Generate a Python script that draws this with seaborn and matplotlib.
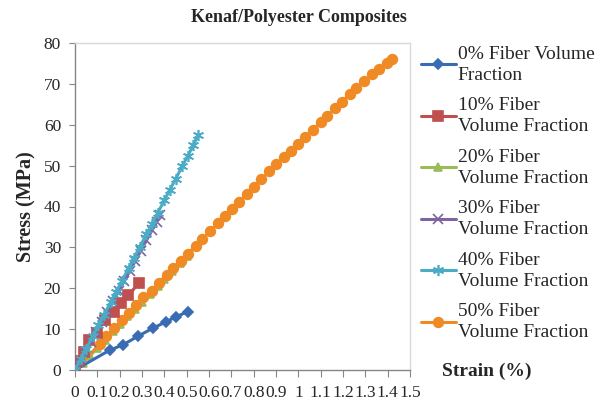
import matplotlib
matplotlib.use("Agg")
import matplotlib.pyplot as plt
import seaborn as sns
import numpy as np
import pandas as pd

# Data (strain in %, stress in MPa)
strain_0 = [0, 0.157, 0.213, 0.283, 0.351, 0.408, 0.452, 0.505]
stress_0 = [0, 4.9, 6.1, 8.3, 10.3, 11.8, 13.0, 14.3]

strain_10 = [0, 0.02, 0.04, 0.064, 0.097, 0.134, 0.175, 0.206, 0.239, 0.285]
stress_10 = [0, 2.2, 4.5, 7.3, 9.1, 12.2, 14.3, 16.5, 18.3, 21.2]

strain_20 = [0, 0.035, 0.067, 0.1, 0.135, 0.17, 0.2, 0.235, 0.27, 0.3,
             0.335, 0.37, 0.4, 0.435, 0.47, 0.5]
stress_20 = [0, 1.8, 3.4, 5.4, 7.4, 9.5, 11.2, 13.1, 15.0, 16.7,
             18.6, 20.6, 22.3, 24.2, 26.2, 28.0]

strain_30 = [0, 0.02, 0.045, 0.07, 0.095, 0.12, 0.145, 0.17, 0.195, 0.22,
             0.245, 0.27, 0.295, 0.32, 0.345, 0.365, 0.38]
stress_30 = [0, 2.0, 4.4, 6.9, 9.3, 11.8, 14.3, 16.8, 19.3, 21.7,
             24.2, 26.7, 29.2, 31.7, 34.2, 36.2, 37.9]

strain_40 = [0, 0.025, 0.05, 0.08, 0.105, 0.13, 0.16, 0.185, 0.21, 0.24, 0.265,
             0.29, 0.32, 0.345, 0.37, 0.4, 0.425, 0.45, 0.48, 0.505, 0.53, 0.55]
stress_40 = [0, 2.6, 5.2, 8.3, 10.9, 13.5, 16.6, 19.2, 21.8, 24.9, 27.5,
             30.1, 33.2, 35.8, 38.4, 41.5, 44.1, 46.7, 49.8, 52.4, 55.0, 57.4]

strain_50 = [0, 0.11, 0.14, 0.175, 0.21, 0.24, 0.275, 0.305, 0.345, 0.375, 0.41,
             0.44, 0.475, 0.505, 0.54, 0.57, 0.605, 0.64, 0.67, 0.705, 0.735,
             0.77, 0.80, 0.835, 0.87, 0.90, 0.935, 0.965, 1.00, 1.03, 1.065,
             1.10, 1.13, 1.165, 1.195, 1.23, 1.26, 1.295, 1.33, 1.36, 1.395, 1.42]
stress_50 = [0, 6.3, 8.2, 10.2, 12.2, 14.0, 15.9, 17.8, 19.4, 21.3, 23.2,
             25.0, 26.7, 28.5, 30.3, 32.0, 34.0, 35.9, 37.6, 39.5, 41.2,
             43.1, 44.8, 46.7, 48.6, 50.3, 52.0, 53.6, 55.4, 57.0, 58.8,
             60.6, 62.2, 64.0, 65.6, 67.5, 69.0, 70.7, 72.3, 73.6, 75.0, 76.0]

labels = ["0% Fiber Volume\nFraction", "10% Fiber\nVolume Fraction",
          "20% Fiber\nVolume Fraction", "30% Fiber\nVolume Fraction",
          "40% Fiber\nVolume Fraction", "50% Fiber\nVolume Fraction"]

x_ticks = [0, 0.1, 0.2, 0.3, 0.4, 0.5, 0.6, 0.7, 0.8, 0.9, 1.0,
           1.1, 1.2, 1.3, 1.4, 1.5]
x_tick_labels = ["0", "0.1", "0.2", "0.3", "0.4", "0.5", "0.6", "0.7", "0.8",
                 "0.9", "1", "1.1", "1.2", "1.3", "1.4", "1.5"]

sns.set_style("white")
plt.rcParams['font.family'] = ['Liberation Serif', 'DejaVu Serif']

colors = ["#3A6CB4", "#C0504D", "#9BBB59", "#8064A2", "#4BACC6", "#F08A24"]
markers = ["D", "s", "^", "x", (6, 2, 0), "o"]
msizes = [5.5, 6.5, 6, 7, 8, 7]
series = [(strain_0, stress_0), (strain_10, stress_10), (strain_20, stress_20),
          (strain_30, stress_30), (strain_40, stress_40), (strain_50, stress_50)]
zorders = [3, 4, 2, 5, 6, 3.5]

fig = plt.figure(figsize=(6.13, 4.07), dpi=100)
ax = fig.add_axes([75 / 613, 1 - 370 / 407, 335 / 613, 327 / 407])

handles = []
for (sx, sy), c, m, ms, lab, z in zip(series, colors, markers, msizes, labels, zorders):
    df = pd.DataFrame({"strain": sx, "stress": sy})
    sns.lineplot(data=df, x="strain", y="stress", ax=ax, color=c, lw=2.2,
                 marker=m, markersize=ms, markeredgecolor=c, markeredgewidth=1.2,
                 sort=False, estimator=None, zorder=z)
    handles.append(ax.lines[-1])

ax.set_xlim(0, 1.5)
ax.set_ylim(0, 80)
ax.set_xticks(x_ticks)
ax.set_xticklabels(x_tick_labels, fontsize=12.5)
ax.set_yticks(range(0, 81, 10))
ax.tick_params(axis='y', labelsize=12.5, length=4, color="#868686", direction='out', left=True, pad=6)
ax.tick_params(axis='x', length=5, color="#868686", direction='out', bottom=True, pad=6)
ax.set_xlabel("")
ax.set_ylabel("Stress (MPa)", fontsize=14.5, fontweight='bold', labelpad=5)
for side in ["top", "right"]:
    ax.spines[side].set_color("#D9D9D9")
for side in ["left", "bottom"]:
    ax.spines[side].set_color("#868686")
for sp in ax.spines.values():
    sp.set_linewidth(1.0)

fig.text(0.487, 0.958, "Kenaf/Polyester Composites", ha='center', va='center',
         fontsize=13, fontweight='bold')
fig.text(442 / 613, 1 - 371 / 407, "Strain (%)", ha='left', va='center',
         fontsize=14, fontweight='bold')

leg = ax.legend(handles, labels, loc='upper left', bbox_to_anchor=(413 / 613, 1 - 38 / 407),
                bbox_transform=fig.transFigure, frameon=False, fontsize=14,
                handlelength=1.8, handletextpad=0.1, labelspacing=0.7, borderaxespad=0)
for t in leg.get_texts():
    t.set_linespacing(1.3)

fig.savefig("out.png", dpi=100)
